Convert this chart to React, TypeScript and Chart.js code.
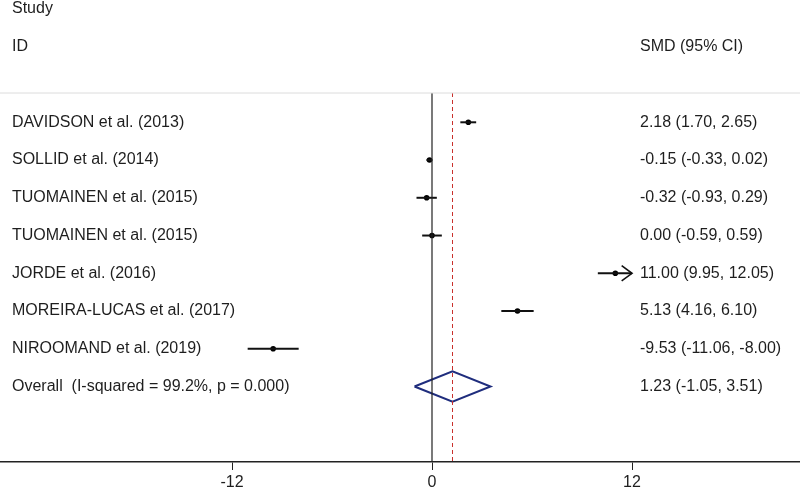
import React, { useEffect, useRef } from "react";
import { Chart, registerables } from "chart.js";

Chart.register(...registerables);

// ---- data ----
const studies = [
  "DAVIDSON et al. (2013)",
  "SOLLID et al. (2014)",
  "TUOMAINEN et al. (2015)",
  "TUOMAINEN et al. (2015)",
  "JORDE et al. (2016)",
  "MOREIRA-LUCAS et al. (2017)",
  "NIROOMAND et al. (2019)",
];
const smd = [2.18, -0.15, -0.32, 0.0, 11.0, 5.13, -9.53];
const ciLow = [1.7, -0.33, -0.93, -0.59, 9.95, 4.16, -11.06];
const ciHigh = [2.65, 0.02, 0.29, 0.59, 12.05, 6.1, -8.0];
const overallLabel = "Overall  (I-squared = 99.2%, p = 0.000)";
const pooled = 1.23;
const pooledLow = -1.05;
const pooledHigh = 3.51;
const xTicks = [-12, 0, 12];
const headerStudy = "Study";
const headerId = "ID";
const headerSmd = "SMD (95% CI)";

// ---- layout constants ----
const AXIS_LIMIT = 12; // CIs beyond this are truncated with an arrow
const X_MIN = -25.92;
const X_MAX = 22.08;
const Y_TOP = -3.24;
const Y_BOTTOM = 9;
const TOP_RULE = -0.776;
const STUDY_COL = -25.2;
const CI_COL = 12.48;
const FONT = '"Liberation Sans", Arial, Helvetica, sans-serif';
const TEXT_COLOR = "#1e1e1e";

const fmt = (v: number) => v.toFixed(2);

export default function App() {
  const ref = useRef<HTMLCanvasElement | null>(null);

  useEffect(() => {
    if (!ref.current) return;
    const datasets: any[] = [];

    // faint top rule
    datasets.push({
      type: "line",
      data: [
        { x: X_MIN, y: TOP_RULE },
        { x: X_MAX, y: TOP_RULE },
      ],
      borderColor: "#dcdcdc",
      borderWidth: 1,
      pointRadius: 0,
    });
    // null line
    datasets.push({
      type: "line",
      data: [
        { x: 0, y: TOP_RULE },
        { x: 0, y: Y_BOTTOM },
      ],
      borderColor: "#222",
      borderWidth: 1.2,
      pointRadius: 0,
    });
    // pooled effect dashed line
    datasets.push({
      type: "line",
      data: [
        { x: pooled, y: TOP_RULE },
        { x: pooled, y: Y_BOTTOM },
      ],
      borderColor: "#c9302c",
      borderWidth: 1,
      borderDash: [4, 3],
      pointRadius: 0,
    });

    // CI lines
    smd.forEach((_, i) => {
      const lo = Math.max(ciLow[i], -AXIS_LIMIT);
      const hi = Math.min(ciHigh[i], AXIS_LIMIT);
      datasets.push({
        type: "line",
        data: [
          { x: lo, y: i },
          { x: hi, y: i },
        ],
        borderColor: "#111",
        borderWidth: 2,
        pointRadius: 0,
      });
      if (ciHigh[i] > AXIS_LIMIT) {
        datasets.push({
          type: "line",
          data: [
            { x: AXIS_LIMIT - 0.62, y: i - 0.2 },
            { x: AXIS_LIMIT, y: i },
            { x: AXIS_LIMIT - 0.62, y: i + 0.2 },
          ],
          borderColor: "#111",
          borderWidth: 1.6,
          pointRadius: 0,
        });
      }
      if (ciLow[i] < -AXIS_LIMIT) {
        datasets.push({
          type: "line",
          data: [
            { x: -AXIS_LIMIT + 0.62, y: i - 0.2 },
            { x: -AXIS_LIMIT, y: i },
            { x: -AXIS_LIMIT + 0.62, y: i + 0.2 },
          ],
          borderColor: "#111",
          borderWidth: 1.6,
          pointRadius: 0,
        });
      }
    });

    // point estimates
    datasets.push({
      type: "scatter",
      data: smd.map((v, i) => ({ x: v, y: i })),
      backgroundColor: "#000",
      borderColor: "#000",
      pointRadius: 2.8,
      pointHoverRadius: 2.8,
      borderWidth: 0,
    });

    // pooled diamond
    const oy = studies.length;
    datasets.push({
      type: "line",
      data: [
        { x: pooledLow, y: oy },
        { x: pooled, y: oy - 0.4 },
        { x: pooledHigh, y: oy },
        { x: pooled, y: oy + 0.4 },
        { x: pooledLow, y: oy },
      ],
      borderColor: "#1f2d7d",
      borderWidth: 2,
      pointRadius: 0,
      fill: false,
    });

    const textPlugin = {
      id: "forestText",
      afterDatasetsDraw(chart: any) {
        const { ctx } = chart;
        const xs = chart.scales.x;
        const ys = chart.scales.y;
        ctx.save();
        ctx.font = `16px ${FONT}`;
        ctx.fillStyle = TEXT_COLOR;
        ctx.textBaseline = "middle";
        ctx.textAlign = "left";
        const lx = xs.getPixelForValue(STUDY_COL);
        const rx = xs.getPixelForValue(CI_COL);
        ctx.fillText(headerStudy, lx, ys.getPixelForValue(-3));
        ctx.fillText(headerId, lx, ys.getPixelForValue(-2));
        ctx.fillText(headerSmd, rx, ys.getPixelForValue(-2));
        studies.forEach((s, i) => {
          const py = ys.getPixelForValue(i);
          ctx.fillText(s, lx, py);
          ctx.fillText(`${fmt(smd[i])} (${fmt(ciLow[i])}, ${fmt(ciHigh[i])})`, rx, py);
        });
        const py = ys.getPixelForValue(studies.length);
        ctx.fillText(overallLabel, lx, py);
        ctx.fillText(`${fmt(pooled)} (${fmt(pooledLow)}, ${fmt(pooledHigh)})`, rx, py);
        ctx.restore();
      },
    };

    const chart = new Chart(ref.current, {
      type: "scatter",
      data: { datasets },
      options: {
        animation: false,
        responsive: true,
        maintainAspectRatio: false,
        layout: { padding: 0, autoPadding: false },
        plugins: {
          legend: { display: false },
          tooltip: { enabled: false },
        },
        scales: {
          x: {
            type: "linear",
            min: X_MIN,
            max: X_MAX,
            afterBuildTicks: (scale: any) => {
              scale.ticks = xTicks.map((v) => ({ value: v }));
            },
            afterFit: (scale: any) => {
              scale.height = 29;
            },
            grid: {
              drawOnChartArea: false,
              drawTicks: true,
              tickLength: 8,
              color: "#222",
              lineWidth: 1,
            },
            border: { display: true, color: "#222", width: 1.5 },
            ticks: {
              padding: 3,
              color: TEXT_COLOR,
              font: { size: 16, family: FONT },
              maxRotation: 0,
              autoSkip: false,
              callback: (v: any) => String(v),
            },
          },
          y: {
            type: "linear",
            display: false,
            reverse: true,
            min: Y_TOP,
            max: Y_BOTTOM,
          },
        },
      },
      plugins: [textPlugin],
    });
    return () => chart.destroy();
  }, []);

  return (
    <div
      style={{
        position: "fixed",
        left: 0,
        top: 0,
        width: 800,
        height: 491,
        background: "#fff",
      }}
    >
      <canvas ref={ref} />
    </div>
  );
}
